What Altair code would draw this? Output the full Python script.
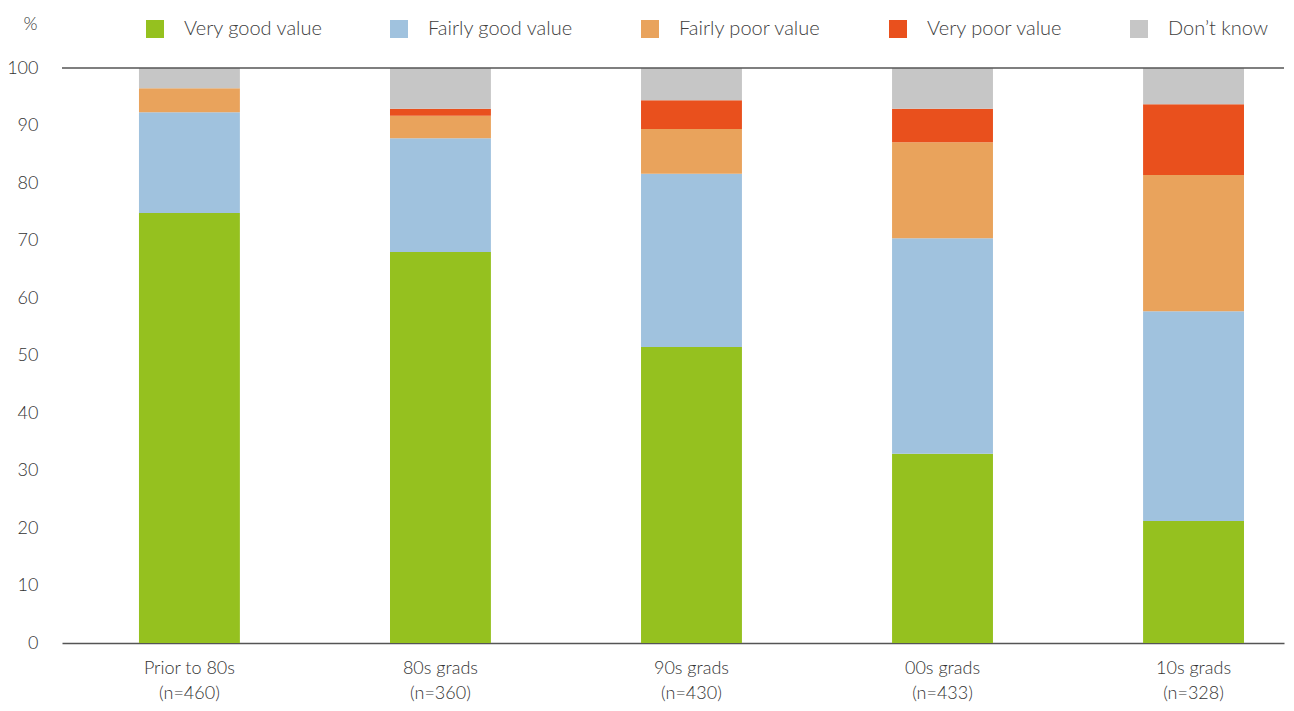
import altair as alt
import pandas as pd

groups = ["Prior to 80s|(n=460)", "80s grads|(n=360)", "90s grads|(n=430)", "00s grads|(n=433)", "10s grads|(n=328)"]
categories = ["Very good value", "Fairly good value", "Fairly poor value", "Very poor value", "Don\u2019t know"]
colors = ["#95C11F", "#A0C2DE", "#E9A35C", "#E9501D", "#C6C6C6"]
very_good = [74.8, 68.0, 51.5, 32.9, 21.2]
fairly_good = [17.5, 19.8, 30.1, 37.5, 36.5]
fairly_poor = [4.2, 3.9, 7.8, 16.7, 23.7]
very_poor = [0.0, 1.2, 5.0, 5.8, 12.3]
dont_know = [3.5, 7.1, 5.6, 7.1, 6.3]

series = [very_good, fairly_good, fairly_poor, very_poor, dont_know]
rows = []
for ci, (cat, vals) in enumerate(zip(categories, series)):
    for g, v in zip(groups, vals):
        rows.append({"group": g, "category": cat, "value": v, "order": ci})
df = pd.DataFrame(rows)

FONT = "Lato"

bars = alt.Chart(df).mark_bar().encode(
    x=alt.X("group:N", sort=groups,
            scale=alt.Scale(paddingInner=0.598, paddingOuter=0.233, align=0.658),
            axis=alt.Axis(title=None, labelAngle=0, ticks=False, domain=True,
                          domainColor="#555555", domainWidth=1.5,
                          labelExpr="split(datum.label, '|')",
                          labelFontSize=18, labelFont=FONT, labelFontWeight=300,
                          labelColor="#333333", labelPadding=16, labelLineHeight=25)),
    y=alt.Y("value:Q", stack="zero",
            scale=alt.Scale(domain=[0, 100], nice=False),
            axis=alt.Axis(values=list(range(0, 101, 10)), grid=False, ticks=False,
                          domain=False, labelFontSize=18, labelFont=FONT,
                          labelFontWeight=300, labelColor="#333333", labelPadding=24,
                          title="%", titleAngle=0, titleX=-32, titleY=-44,
                          titleAlign="center", titleBaseline="middle",
                          titleFont=FONT, titleFontSize=18, titleFontWeight=300,
                          titleColor="#333333")),
    color=alt.Color("category:N", sort=categories,
                    scale=alt.Scale(domain=categories, range=colors),
                    legend=alt.Legend(title=None, orient="none", legendX=83, legendY=-49,
                                      direction="horizontal", columns=5,
                                      symbolType="square", symbolSize=324,
                                      symbolStrokeWidth=0, symbolOpacity=1,
                                      labelFont=FONT, labelFontSize=20,
                                      labelFontWeight=300, labelColor="#404040",
                                      labelOffset=19, columnPadding=66,
                                      labelLimit=300)),
    order=alt.Order("order:Q"),
)

top_rule = alt.Chart(pd.DataFrame({"y": [100]})).mark_rule(
    color="#555555", strokeWidth=1.5
).encode(y="y:Q")

chart = alt.layer(bars, top_rule).properties(
    width=1222, height=575,
    autosize=alt.AutoSizeParams(type="none"),
    padding={"left": 54, "top": 60, "right": 2, "bottom": 60},
).configure_view(stroke=None)

chart.save("out.html", embed_options={"renderer": "svg", "actions": False})
